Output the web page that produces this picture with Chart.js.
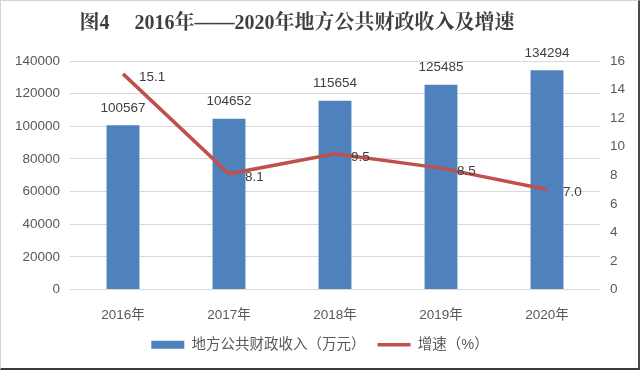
<!DOCTYPE html>
<html>
<head>
<meta charset="utf-8">
<script src="https://cdn.jsdelivr.net/npm/chart.js@4/dist/chart.umd.min.js"></script>
<style>
  html, body { margin: 0; padding: 0; background: #fff; }
  #wrap { position: relative; width: 640px; height: 370px; }
  #frame { position: absolute; left: 0; top: 0; width: 640px; height: 370px; box-sizing: border-box;
           border-left: 1px solid #d4d4d4; border-top: 1px solid #d4d4d4;
           border-right: 2px solid #4a4a4a; border-bottom: 2px solid #3a3a3a; pointer-events: none; }
</style>
</head>
<body>
<div id="wrap">
  <canvas id="c" width="640" height="370"></canvas>
  <div id="frame"></div>
</div>
<script>
const titleText = '图4\u3000 2016年——2020年地方公共财政收入及增速';
const categories = ['2016年', '2017年', '2018年', '2019年', '2020年'];
const revenue = [100567, 104652, 115654, 125485, 134294];
const growth = [15.1, 8.1, 9.5, 8.5, 7.0];
const revenueLabel = '地方公共财政收入（万元）';
const growthLabel = '增速（%）';

const FONT = "'Liberation Sans', Arial, 'Noto Sans CJK SC', sans-serif";

const titlePlugin = {
  id: 'titleText',
  afterDraw(chart) {
    const ctx = chart.ctx;
    ctx.save();
    ctx.font = "bold 20px 'Liberation Serif', 'Noto Serif CJK SC', 'Noto Sans CJK SC', serif";
    ctx.fillStyle = '#3f3f3f';
    ctx.textAlign = 'center';
    ctx.textBaseline = 'middle';
    ctx.fillText(titleText, 297, 24);
    ctx.restore();
  }
};

const valueLabels = {
  id: 'valueLabels',
  afterDatasetsDraw(chart) {
    const ctx = chart.ctx;
    ctx.save();
    ctx.font = '13.5px ' + FONT;
    ctx.fillStyle = '#404040';
    ctx.textBaseline = 'middle';
    const barMeta = chart.getDatasetMeta(0);
    ctx.textAlign = 'center';
    barMeta.data.forEach((el, i) => {
      ctx.fillText(String(revenue[i]), el.x, el.y - 17);
    });
    const lineMeta = chart.getDatasetMeta(1);
    ctx.textAlign = 'left';
    lineMeta.data.forEach((el, i) => {
      ctx.fillText(growth[i].toFixed(1), el.x + 16, el.y + 3);
    });
    ctx.restore();
  }
};

new Chart(document.getElementById('c'), {
  data: {
    labels: categories,
    datasets: [
      {
        type: 'bar',
        label: revenueLabel,
        data: revenue,
        backgroundColor: '#4f81bd',
        borderWidth: 0,
        pointStyle: 'rect',
        yAxisID: 'y',
        categoryPercentage: 1,
        barPercentage: 0.31,
        order: 2
      },
      {
        type: 'line',
        label: growthLabel,
        data: growth,
        borderColor: '#c0504d',
        backgroundColor: '#c0504d',
        borderWidth: 3.5,
        pointRadius: 0,
        pointStyle: 'line',
        tension: 0,
        yAxisID: 'y1',
        order: 1
      }
    ]
  },
  options: {
    responsive: false,
    animation: false,
    layout: { padding: { top: 61, bottom: 8, left: 0, right: 0 } },
    plugins: {
      title: { display: false },
      tooltip: { enabled: false },
      legend: {
        position: 'bottom',
        labels: {
          usePointStyle: true,
          pointStyleWidth: 33,
          boxHeight: 8,
          padding: 12,
          color: '#595959',
          font: { size: 14.5, family: FONT },
          sort: (a, b) => a.datasetIndex - b.datasetIndex
        }
      }
    },
    scales: {
      x: {
        grid: { display: false },
        border: { display: false },
        ticks: { color: '#595959', font: { size: 13.5, family: FONT }, padding: 10 },
        afterFit(s) { s.height = 36; }
      },
      y: {
        position: 'left',
        min: 0, max: 140000,
        ticks: { stepSize: 20000, color: '#595959', font: { size: 13.5, family: FONT }, padding: 10,
                 callback: (v) => String(v) },
        grid: { color: '#d9d9d9', lineWidth: 1, drawTicks: false },
        border: { display: false },
        afterFit(s) { s.width = 70; }
      },
      y1: {
        position: 'right',
        min: 0, max: 16,
        ticks: { stepSize: 2, color: '#595959', font: { size: 13.5, family: FONT }, padding: 10,
                 callback: (v) => String(v) },
        grid: { display: false, drawTicks: false },
        border: { display: false },
        afterFit(s) { s.width = 40; }
      }
    }
  },
  plugins: [titlePlugin, valueLabels]
});
</script>
</body>
</html>
